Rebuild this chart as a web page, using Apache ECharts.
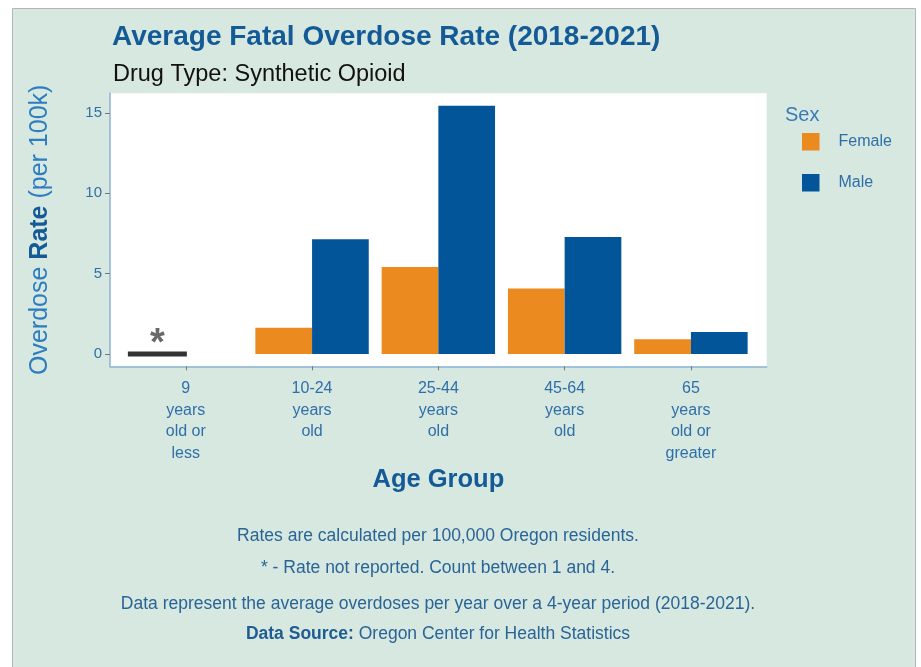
<!DOCTYPE html>
<html><head><meta charset="utf-8">
<script src="https://cdn.jsdelivr.net/npm/echarts@6/dist/echarts.min.js"></script>
<style>html,body{margin:0;padding:0;background:#fff}#c{width:921px;height:667px}</style>
</head><body><div id="c"></div>
<script>
const categories = ['9\nyears\nold or\nless', '10-24\nyears\nold', '25-44\nyears\nold', '45-64\nyears\nold', '65\nyears\nold or\ngreater'];
const female = [null, 1.63, 5.41, 4.07, 0.91];
const male = [null, 7.13, 15.44, 7.27, 1.36];
const suppressed = [true, false, false, false, false];
const yTicks = [0, 5, 10, 15];
const footnotes = [
  'Rates are calculated per 100,000 Oregon residents.',
  '* - Rate not reported. Count between 1 and 4.',
  'Data represent the average overdoses per year over a 4-year period (2018-2021).'
];

const FONT = '"Liberation Sans", Arial, sans-serif';
const AXC = '#2F6FA8';
const chart = echarts.init(document.getElementById('c'));

function pairs(arr) {
  const out = [];
  arr.forEach((v, i) => { if (v !== null) out.push([i, v]); });
  return out;
}
const supData = [];
suppressed.forEach((s, i) => { if (s) supData.push([i, 0]); });

chart.setOption({
  animation: false,
  textStyle: { fontFamily: FONT },
  graphic: [
    { type: 'rect', z: -10, shape: { x: 12.5, y: 8.5, width: 903, height: 670 },
      style: { fill: '#D6E8E0', stroke: '#B4B4B4', lineWidth: 1 } },
    { type: 'text', x: 785, y: 115, style: { text: 'Sex', fontSize: 20, fill: '#3A7AB5', fontFamily: FONT, verticalAlign: 'middle' } },
    ...footnotes.map((t, i) => ({
      type: 'text', x: 438, y: [536, 568, 604][i],
      style: { text: t, fontSize: 17.5, fill: '#2A6496', fontFamily: FONT, align: 'center', verticalAlign: 'middle' }
    })),
    { type: 'text', x: 438, y: 634,
      style: { text: '{b|Data Source: }{a|Oregon Center for Health Statistics}', align: 'center', verticalAlign: 'middle',
        rich: { a: { fontSize: 17.5, fill: '#2A6496', fontFamily: FONT }, b: { fontSize: 17.5, fontWeight: 'bold', fill: '#1F5C91', fontFamily: FONT } } } }
  ],
  title: [
    { text: 'Average Fatal Overdose Rate (2018-2021)', left: 107, top: 18,
      textStyle: { fontSize: 28, fontWeight: 'bold', color: '#145A96', fontFamily: FONT } },
    { text: 'Drug Type: Synthetic Opioid', left: 108, top: 58,
      textStyle: { fontSize: 23.5, fontWeight: 'normal', color: '#111', fontFamily: FONT } }
  ],
  legend: {
    data: ['Female', 'Male'], orient: 'vertical', left: 802, top: 133, padding: 0,
    itemWidth: 17.5, itemHeight: 17.5, itemGap: 23.5, icon: 'rect',
    textStyle: { fontSize: 16, color: '#2F6FA8', fontFamily: FONT, padding: [0, 0, 0, 14] }
  },
  grid: { left: 110, top: 93.3, width: 656.7, height: 273, show: true, backgroundColor: '#fff', borderWidth: 0, containLabel: false },
  xAxis: {
    type: 'value', min: -0.6, max: 4.6,
    name: 'Age Group', nameLocation: 'middle', nameGap: 101,
    nameTextStyle: { fontSize: 25.5, fontWeight: 'bold', color: '#145A96', fontFamily: FONT },
    axisLine: { show: true, onZero: false, lineStyle: { color: '#8DB3D6', width: 1.5 } },
    axisTick: { show: true, customValues: [0, 1, 2, 3, 4], length: 4, lineStyle: { color: '#777' } },
    axisLabel: { customValues: [0, 1, 2, 3, 4], formatter: v => categories[Math.round(v)], fontSize: 16, lineHeight: 21.5, color: AXC, margin: 12, fontFamily: FONT },
    splitLine: { show: false }
  },
  yAxis: {
    type: 'value', min: -0.77, max: 16.22,
    name: '{a|Overdose }{b|Rate}{a| (per 100k)}', nameLocation: 'middle', nameGap: 57, nameRotate: 90,
    nameTextStyle: { rich: { a: { fontSize: 25, color: '#2E7DC0', fontFamily: FONT }, b: { fontSize: 25, fontWeight: 'bold', color: '#145A96', fontFamily: FONT } } },
    axisLine: { show: true, onZero: false, lineStyle: { color: '#8DB3D6', width: 1.5 } },
    axisTick: { show: true, customValues: yTicks, length: 5, lineStyle: { color: '#777' } },
    axisLabel: { customValues: yTicks, fontSize: 15, color: AXC, margin: 8, fontFamily: FONT },
    splitLine: { show: false }
  },
  series: [
    { name: 'Female', type: 'bar', data: pairs(female), barWidth: 56.7, barGap: '0%', itemStyle: { color: '#EA8A1F' } },
    { name: 'Male', type: 'bar', data: pairs(male), barWidth: 56.7, barGap: '0%', itemStyle: { color: '#03559A' } },
    { name: 'Suppressed', type: 'scatter', data: supData, symbol: 'rect', symbolSize: [59, 5], symbolOffset: [-28.4, 0],
      itemStyle: { color: '#000' },
      label: { show: true, formatter: '*', position: 'top', distance: -12, fontSize: 38, fontWeight: 'bold', color: '#444', fontFamily: FONT } }
  ]
});
</script></body></html>
